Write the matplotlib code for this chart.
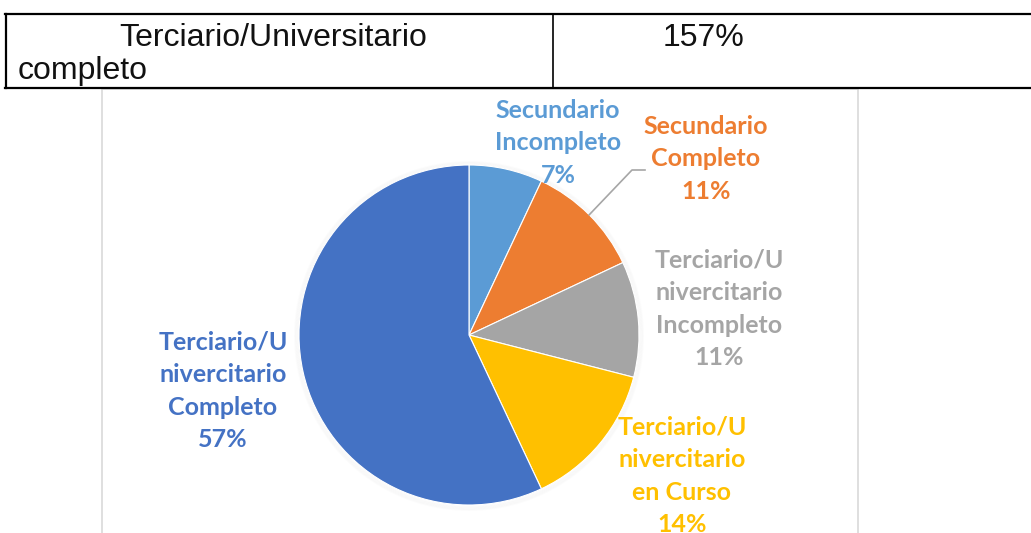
import numpy as np
import matplotlib
matplotlib.use("Agg")
import matplotlib.pyplot as plt
from matplotlib.patches import Rectangle, Circle

# Education level distribution
categories = [
    "Secundario\nIncompleto",
    "Secundario\nCompleto",
    "Terciario/U\nnivercitario\nIncompleto",
    "Terciario/U\nnivercitario\nen Curso",
    "Terciario/U\nnivercitario\nCompleto",
]
shares = [7, 11, 11, 14, 57]
colors = ["#5B9BD5", "#ED7D31", "#A5A5A5", "#FFC000", "#4472C4"]

table_label = "Terciario/Universitario"
table_label_2 = "completo"
table_value = "157%"

W, H = 1031, 533
fig = plt.figure(figsize=(W / 100, H / 100), dpi=100)
ax = fig.add_axes([0, 0, 1, 1])


def Y(y):
    return H - y


# Table row above the chart
lw = 1.6
ax.plot([5, W], [Y(14), Y(14)], color="black", lw=lw)
ax.plot([5, W], [Y(88), Y(88)], color="black", lw=lw)
ax.plot([5.5, 5.5], [Y(14), Y(88)], color="black", lw=lw)
ax.plot([553, 553], [Y(14), Y(88)], color="black", lw=1.2)
tfont = dict(family="Liberation Sans", fontsize=23, color="#111111", va="center")
ax.text(119, Y(38), table_label, ha="left", **tfont)
ax.text(18, Y(71), table_label_2, ha="left", **tfont)
ax.text(663, Y(38), table_value, ha="left", **tfont)

# Chart area frame
ax.add_patch(Rectangle((102, -5), 756, Y(89) + 5, facecolor="white",
                       edgecolor="#D9D9D9", lw=1.2, zorder=1))

# Pie
cx, cy, r = 469, Y(335), 170

# faint soft shadow around the pie
for i in range(5):
    ax.add_patch(Circle((cx, cy - 1), r + 0.5 + i * 0.9, facecolor="none",
                        edgecolor="black", alpha=0.012, lw=1.4, zorder=2))

wedges, _ = ax.pie(shares, colors=colors, startangle=90, counterclock=False,
                   center=(cx, cy), radius=r, frame=True,
                   wedgeprops=dict(linewidth=0.8, edgecolor="white"))
for w in wedges:
    w.set_zorder(3)
ax.set_xlim(0, W)
ax.set_ylim(0, H)
ax.set_aspect("equal")
ax.axis("off")

# Data labels
label_pos = [(558, 143), (706, 159), (719, 309), (682, 476), (223, 391)]
lfont = dict(family="Lato", fontweight="bold", fontsize=18,
             ha="center", va="center", linespacing=1.5, zorder=5)
for cat, val, col, (lx, ly) in zip(categories, shares, colors, label_pos):
    ax.text(lx, Y(ly), f"{cat}\n{val}%", color=col, **lfont)

# Leader line for the second slice
start = 90 - 360 * (shares[0] + shares[1] / 2) / 100
ex = cx + r * np.cos(np.radians(start))
ey = cy + r * np.sin(np.radians(start))
ax.plot([ex, 632, 645], [ey, Y(170), Y(170)], color="#A6A6A6", lw=1.2, zorder=4)

fig.savefig("out.png", dpi=100)
